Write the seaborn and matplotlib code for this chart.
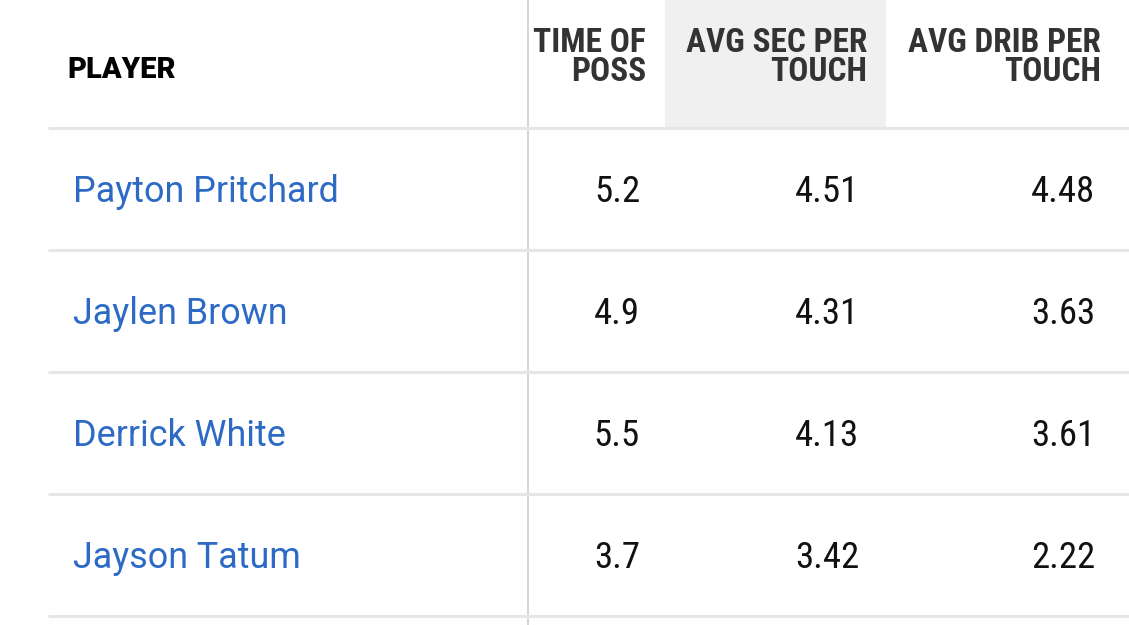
import matplotlib
matplotlib.use("Agg")
import matplotlib.pyplot as plt
import seaborn as sns
from matplotlib import font_manager

# table contents
players = ["Payton Pritchard", "Jaylen Brown", "Derrick White", "Jayson Tatum"]
time_of_poss = ["5.2", "4.9", "5.5", "3.7"]
avg_sec_per_touch = ["4.51", "4.31", "4.13", "3.42"]
avg_drib_per_touch = ["4.48", "3.63", "3.61", "2.22"]
headers = ["PLAYER", "TIME OF\nPOSS", "AVG SEC PER\nTOUCH", "AVG DRIB PER\nTOUCH"]

sns.set_theme(style="white")

# pick a narrow face if one exists, otherwise plain Roboto
names = {f.name for f in font_manager.fontManager.ttflist}
narrow = next((n for n in ["Roboto Condensed", "Liberation Sans Narrow"] if n in names), "Roboto")
plt.rcParams["font.family"] = ["Roboto", "DejaVu Sans"]

W, H = 1129, 625
fig = plt.figure(figsize=(W / 100, H / 100), dpi=100)
ax = fig.add_axes([0, 0, 1, 1])
ax.set_xlim(0, W)
ax.set_ylim(H, 0)
ax.axis("off")

header_bottom = 128
row_h = 122
right_edges = [646, 867, 1101]
num_right = [640, 859, 1095]

# shaded (sorted) column header
ax.axvspan(665, 886, ymin=1 - header_bottom / H, ymax=1, color="#f0f0f0", lw=0, zorder=0)

# vertical divider after player column
ax.axvline(528, color="#d6d6d6", lw=1.4, zorder=1)

# horizontal row separators
for i in range(len(players) + 1):
    y = header_bottom + i * row_h
    ax.plot([48, W], [y, y], color="#e6e6e6", lw=2.2, zorder=2, solid_capstyle="butt")

# header
ax.text(67, 70, headers[0], ha="left", va="center", fontsize=21,
        fontweight="heavy", color="#000000")
for txt, x in zip(headers[1:], right_edges):
    ax.text(x, 57.5, txt, ha="right", va="center", fontsize=24, fontweight="heavy",
            color="#333333", family=[narrow, "Roboto"], linespacing=0.88)

# rows
cols = [time_of_poss, avg_sec_per_touch, avg_drib_per_touch]
for i, name in enumerate(players):
    yc = header_bottom + row_h / 2 + i * row_h + 3
    ax.text(73, yc, name, ha="left", va="center", fontsize=25.8, color="#2d6ac6")
    for vals, x in zip(cols, num_right):
        ax.text(x, yc, vals[i], ha="right", va="center", fontsize=26.5,
                color="#111111", family=[narrow, "Roboto"])

fig.savefig("out.png", dpi=100)
